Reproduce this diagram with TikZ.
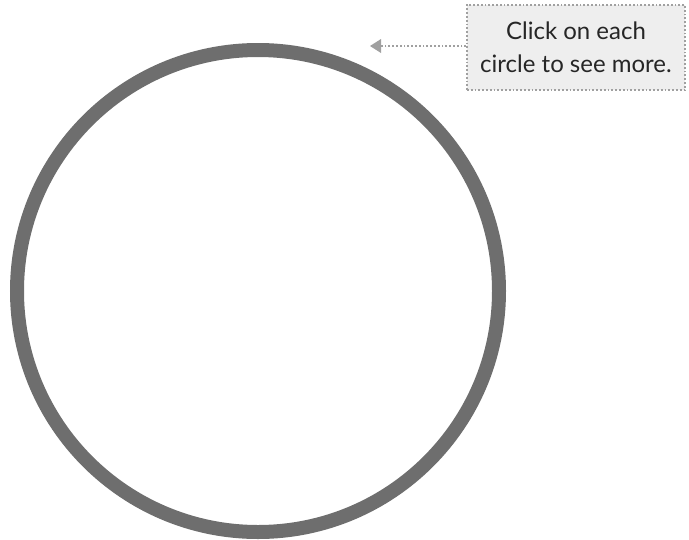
\documentclass[tikz,border=0pt]{standalone}
\usepackage{fontspec}
\setmainfont{Lato}
\usetikzlibrary{arrows.meta}
\definecolor{ringgray}{HTML}{6E6E6E}
\definecolor{notefill}{HTML}{EEEEEE}
\definecolor{notedraw}{HTML}{A0A0A0}
\tikzset{
  ring/.style={draw=ringgray, line width=14pt},
  notebox/.style={draw=notedraw, dotted, line width=1.8pt, fill=notefill, minimum width=218pt, minimum height=85pt, align=center, inner sep=0pt, font=\fontsize{24pt}{33pt}\selectfont, text=black!85},
  pointer/.style={draw=notedraw, dotted, line width=1.8pt, -{Triangle[width=14pt,length=11pt,fill=notedraw,line width=0pt]}}
}
\begin{document}
\begin{tikzpicture}[x=1pt,y=-1pt]
\useasboundingbox (0,0) rectangle (689,539);
\node[ring, circle, minimum size=482pt, inner sep=0pt] (ring) at (258,291) {};
\node[notebox] (note) at (576,47.5) {Click on each\\circle to see more.};
\coordinate (tip) at (370,46);
\draw[pointer] (note.west |- tip) -- (tip);
\end{tikzpicture}
\end{document}
